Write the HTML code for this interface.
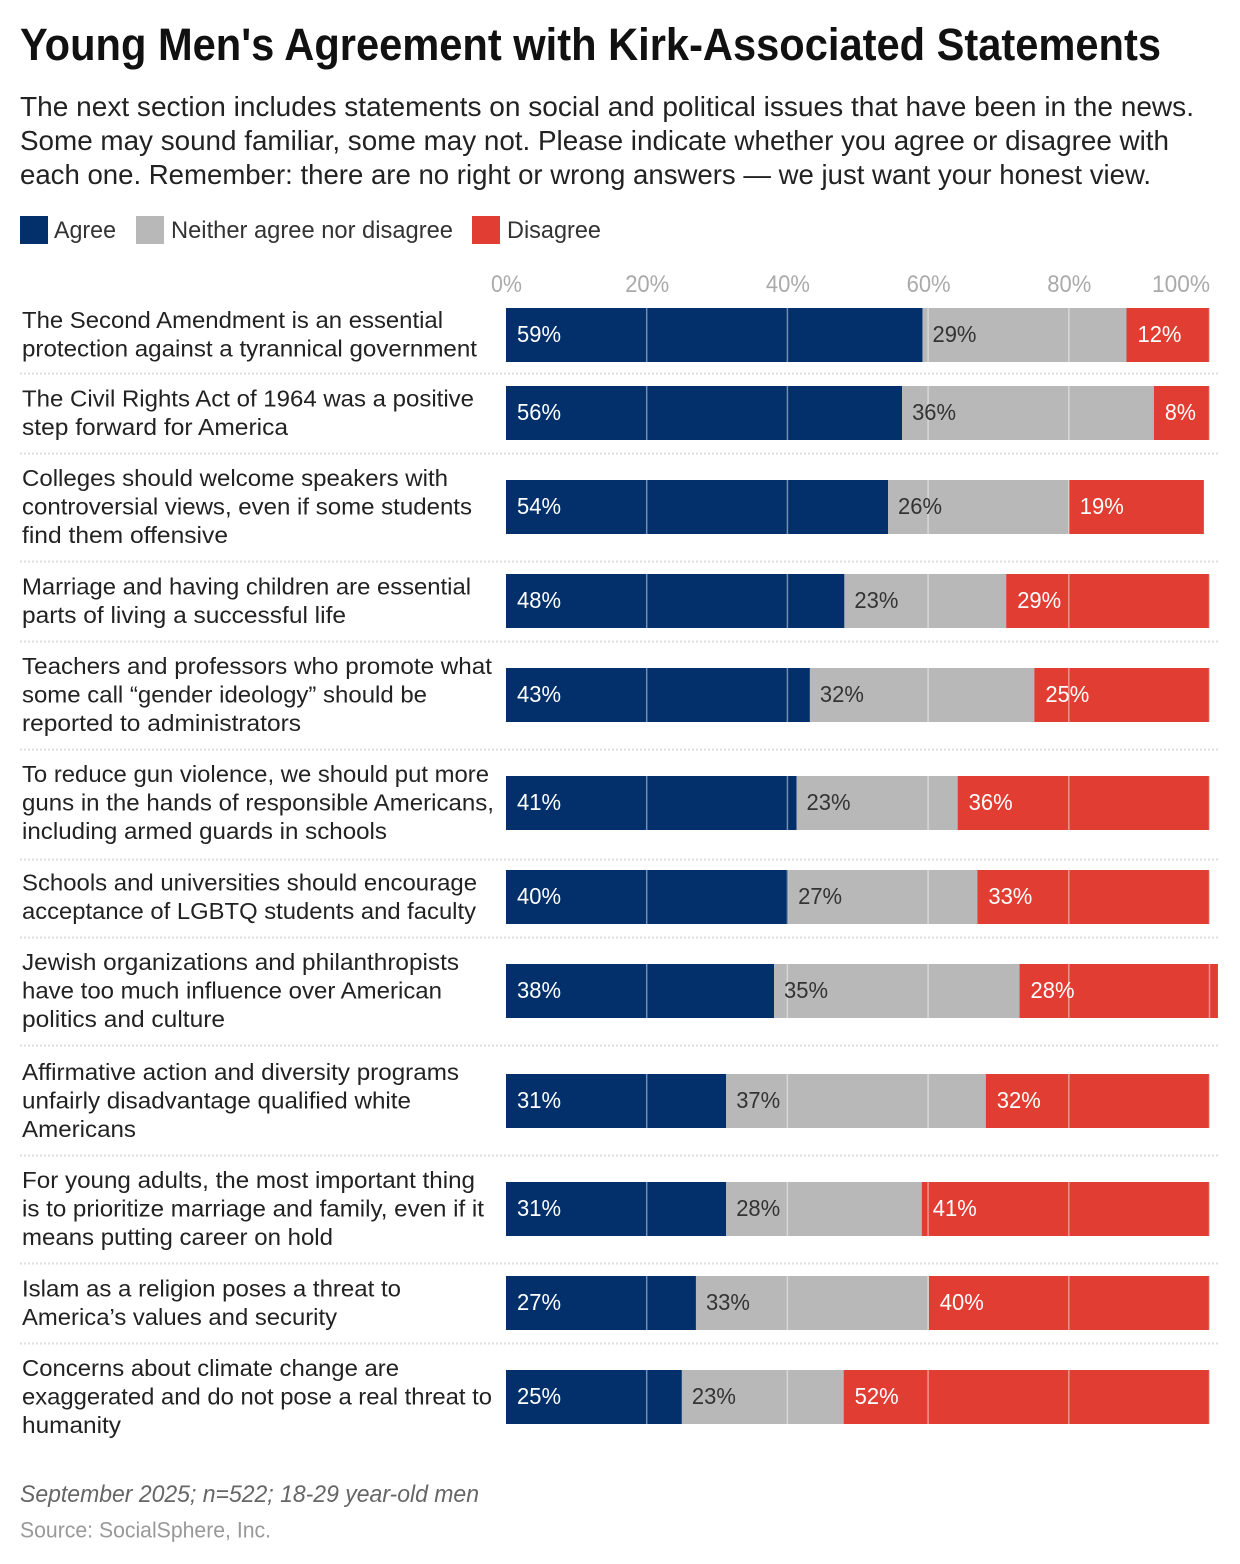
<!DOCTYPE html>
<html lang="en">
<head>
<meta charset="utf-8">
<title>Young Men's Agreement with Kirk-Associated Statements</title>
<style>
html,body{margin:0;padding:0;background:#fff;}
svg{display:block;font-family:"Liberation Sans",Arial,sans-serif;}
</style>
</head>
<body>
<svg id="chart" xmlns="http://www.w3.org/2000/svg" width="1240" height="1564" viewBox="0 0 1240 1564">
  <rect x="0" y="0" width="1240" height="1564" fill="#fff"/>
  <text x="20" y="60" font-size="45" font-weight="700" fill="#111" textLength="1141" lengthAdjust="spacingAndGlyphs">Young Men's Agreement with Kirk-Associated Statements</text>
  <g font-size="28" fill="#222">
    <text x="20" y="116" textLength="1174" lengthAdjust="spacingAndGlyphs">The next section includes statements on social and political issues that have been in the news.</text>
    <text x="20" y="150" textLength="1149" lengthAdjust="spacingAndGlyphs">Some may sound familiar, some may not. Please indicate whether you agree or disagree with</text>
    <text x="20" y="184" textLength="1131" lengthAdjust="spacingAndGlyphs">each one. Remember: there are no right or wrong answers — we just want your honest view.</text>
  </g>
  <g font-size="24" fill="#333">
    <rect x="20" y="216" width="28" height="28" fill="#03306b"/>
    <text x="54" y="238" textLength="62" lengthAdjust="spacingAndGlyphs">Agree</text>
    <rect x="136" y="216" width="28" height="28" fill="#b8b8b8"/>
    <text x="171" y="238" textLength="282" lengthAdjust="spacingAndGlyphs">Neither agree nor disagree</text>
    <rect x="472" y="216" width="28" height="28" fill="#e23d33"/>
    <text x="507" y="238" textLength="94" lengthAdjust="spacingAndGlyphs">Disagree</text>
  </g>
  <g id="separators"></g>
  <g id="ticks"></g>
  <g id="rows"></g>
  <text x="20" y="1502" font-size="24" font-style="italic" fill="#666" textLength="459" lengthAdjust="spacingAndGlyphs">September 2025; n=522; 18-29 year-old men</text>
  <text x="20" y="1537.5" font-size="22" fill="#999" textLength="251" lengthAdjust="spacingAndGlyphs">Source: SocialSphere, Inc.</text>
</svg>
<script>
const categories = [
  ["The Second Amendment is an essential","protection against a tyrannical government"],
  ["The Civil Rights Act of 1964 was a positive","step forward for America"],
  ["Colleges should welcome speakers with","controversial views, even if some students","find them offensive"],
  ["Marriage and having children are essential","parts of living a successful life"],
  ["Teachers and professors who promote what","some call “gender ideology” should be","reported to administrators"],
  ["To reduce gun violence, we should put more","guns in the hands of responsible Americans,","including armed guards in schools"],
  ["Schools and universities should encourage","acceptance of LGBTQ students and faculty"],
  ["Jewish organizations and philanthropists","have too much influence over American","politics and culture"],
  ["Affirmative action and diversity programs","unfairly disadvantage qualified white","Americans"],
  ["For young adults, the most important thing","is to prioritize marriage and family, even if it","means putting career on hold"],
  ["Islam as a religion poses a threat to","America’s values and security"],
  ["Concerns about climate change are","exaggerated and do not pose a real threat to","humanity"]
];
const agree = [59.2,56.3,54.3,48.1,43.2,41.3,40.1,38.1,31.3,31.3,27,25];
const neither = [29,35.8,25.7,23,31.9,22.9,26.9,34.9,36.9,27.8,33.1,23];
const disagree = [11.8,7.9,19.2,28.9,24.9,35.8,33,28.2,31.8,40.9,39.9,52];
const tickValues = [0,20,40,60,80,100];
const tickLabels = ["0%","20%","40%","60%","80%","100%"];
const labelWidths = [
  [421,455],[452,266],[426,450,206],[449,324],[470,405,279],[467,472,365],
  [455,454],[437,420,203],[437,389,114],[453,462,311],[379,315],[377,470,99]
];

const NS = "http://www.w3.org/2000/svg";
const X0 = 506, PX_PER_PCT = 7.035, BAR_H = 54, ROWS_TOP = 296;
const COLORS = {agree:"#03306b", neither:"#b8b8b8", disagree:"#e23d33"};
const xScale = v => X0 + v * PX_PER_PCT;
const rowHeight = (n, i) => (n === 2 ? 80 : 108) + (i === 0 ? -3 : 0) + (i === 7 ? 2 : 0);
const centerNudge = i => (i === 7 ? -1 : 0);
const separatorNudge = i => (i === 5 ? 2 : (i === 7 ? -2 : 0));

function el(tag, attrs, parent, text) {
  const e = document.createElementNS(NS, tag);
  for (const k in attrs) e.setAttribute(k, attrs[k]);
  if (text !== undefined) e.textContent = text;
  parent.appendChild(e);
  return e;
}

const rowsG = document.getElementById("rows");
const sepG = document.getElementById("separators");
const ticksG = document.getElementById("ticks");

tickValues.forEach((t, i) => {
  const w = tickLabels[i].length === 2 ? 31 : (tickLabels[i].length === 3 ? 44 : 58);
  const last = i === tickValues.length - 1;
  const tick = el("text", {x: xScale(t) + (last ? 0.5 : 0.5), y: 292, "font-size": 24, fill: "#aaa",
    "text-anchor": last ? "end" : "middle", textLength: w, lengthAdjust: "spacingAndGlyphs"}, ticksG, tickLabels[i]);
  
  
});

let rowTop = ROWS_TOP;
categories.forEach((lines, r) => {
  const h = rowHeight(lines.length, r);
  const cy = rowTop + h / 2 + centerNudge(r);
  const barTop = Math.round(cy - BAR_H / 2);

  const g = el("g", {}, rowsG);
  
  

  lines.forEach((line, i) => {
    const y = cy + 7.5 + (i - (lines.length - 1) / 2) * 28.5;
    const t = el("text", {x: 22, y: y, "font-size": 23, fill: "#222",
      textLength: labelWidths[r][i], lengthAdjust: "spacingAndGlyphs"}, g, line);
    
    
  });

  const a = agree[r], n = neither[r], d = disagree[r];
  const segs = [
    {start: 0, v: a, c: COLORS.agree, tc: "#fff", pad: 11},
    {start: a, v: n, c: COLORS.neither, tc: "#333", pad: 10},
    {start: a + n, v: d, c: COLORS.disagree, tc: "#fff", pad: 11}
  ];
  segs.forEach(s => {
    const b = el("rect", {x: xScale(s.start), y: barTop, width: s.v * PX_PER_PCT, height: BAR_H, fill: s.c}, g);
    
    
  });
  tickValues.slice(1).forEach(t => {
    const gl = el("rect", {x: xScale(t) - 0.75, y: barTop, width: 1.5, height: BAR_H, fill: "#fff", "fill-opacity": 0.45}, g);
    
    
  });
  segs.forEach(s => {
    const lab = Math.round(s.v) + "%";
    const v = el("text", {x: xScale(s.start) + s.pad, y: barTop + 34, "font-size": 23, fill: s.tc,
      textLength: lab.length === 3 ? 44 : 31, lengthAdjust: "spacingAndGlyphs"}, g, lab);
    
    
  });

  rowTop += h;
  if (r < categories.length - 1) {
    const sy = rowTop + 0.5 + separatorNudge(r);
    const s = el("line", {x1: 20, x2: 1218, y1: sy, y2: sy, stroke: "#ddd",
      "stroke-width": 2, "stroke-dasharray": "2 2"}, sepG);
    
    
  }
});
</script>
</body>
</html>
